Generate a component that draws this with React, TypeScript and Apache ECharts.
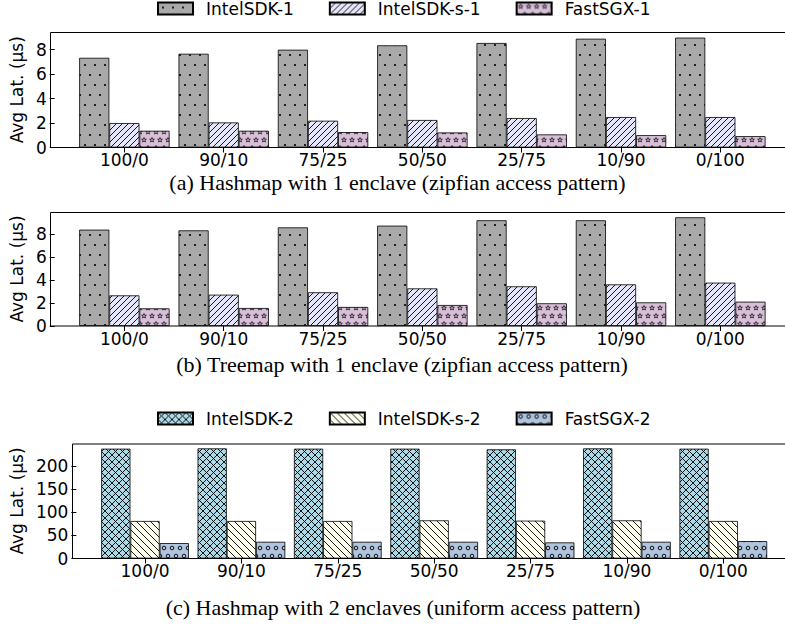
import React, { useEffect, useRef } from 'react';
import * as echarts from 'echarts';

const categories = ['100/0', '90/10', '75/25', '50/50', '25/75', '10/90', '0/100'];

// (a) Hashmap, 1 enclave
const hashIntel1 = [7.34, 7.67, 8.0, 8.36, 8.55, 8.9, 8.99];
const hashIntelS1 = [2.0, 2.05, 2.19, 2.25, 2.41, 2.49, 2.49];
const hashFast1 = [1.37, 1.37, 1.26, 1.23, 1.07, 1.01, 0.93];

// (b) Treemap, 1 enclave
const treeIntel1 = [8.4, 8.34, 8.6, 8.75, 9.22, 9.22, 9.48];
const treeIntelS1 = [2.67, 2.73, 2.94, 3.28, 3.46, 3.63, 3.78];
const treeFast1 = [1.54, 1.57, 1.66, 1.83, 1.98, 2.06, 2.12];

// (c) Hashmap, 2 enclaves
const hashIntel2 = [236.8, 237.5, 236.8, 236.8, 235.4, 237.5, 236.8];
const hashIntelS2 = [80.9, 80.9, 80.9, 82.3, 81.6, 82.3, 80.9];
const hashFast2 = [33.2, 36.1, 36.1, 36.1, 34.7, 36.1, 37.5];

const names1 = ['IntelSDK-1', 'IntelSDK-s-1', 'FastSGX-1'];
const names2 = ['IntelSDK-2', 'IntelSDK-s-2', 'FastSGX-2'];
const yTicksSmall = [0, 2, 4, 6, 8];
const yTicksLarge = [0, 50, 100, 150, 200];
const yTitle = 'Avg Lat. (µs)';
const captions = [
  '(a) Hashmap with 1 enclave (zipfian access pattern)',
  '(b) Treemap with 1 enclave (zipfian access pattern)',
  '(c) Hashmap with 2 enclaves (uniform access pattern)',
];

const SANS = 'DejaVu Sans';
const SERIF = 'Liberation Serif';

type Draw = (ctx: CanvasRenderingContext2D, w: number, h: number) => void;

function makePattern(bg: string, w: number, h: number, draw: Draw) {
  const c = document.createElement('canvas');
  c.width = w;
  c.height = h;
  const ctx = c.getContext('2d') as CanvasRenderingContext2D;
  ctx.fillStyle = bg;
  ctx.fillRect(0, 0, w, h);
  ctx.strokeStyle = '#000';
  ctx.fillStyle = '#000';
  draw(ctx, w, h);
  return { image: c.toDataURL(), repeat: 'repeat', imageWidth: w, imageHeight: h };
}

function dot(ctx: CanvasRenderingContext2D, x: number, y: number, r: number) {
  ctx.beginPath();
  ctx.arc(x, y, r, 0, Math.PI * 2);
  ctx.fill();
}
function ring(ctx: CanvasRenderingContext2D, x: number, y: number, r: number) {
  ctx.beginPath();
  ctx.arc(x, y, r, 0, Math.PI * 2);
  ctx.stroke();
}
function star(ctx: CanvasRenderingContext2D, x: number, y: number, ro: number, ri: number) {
  ctx.beginPath();
  for (let i = 0; i < 10; i++) {
    const r = i % 2 === 0 ? ro : ri;
    const a = -Math.PI / 2 + (i * Math.PI) / 5;
    const px = x + r * Math.cos(a);
    const py = y + r * Math.sin(a);
    if (i === 0) ctx.moveTo(px, py);
    else ctx.lineTo(px, py);
  }
  ctx.closePath();
  ctx.stroke();
}
function seg(ctx: CanvasRenderingContext2D, x1: number, y1: number, x2: number, y2: number) {
  ctx.beginPath();
  ctx.moveTo(x1, y1);
  ctx.lineTo(x2, y2);
  ctx.stroke();
}

function buildPatterns() {
  const dots = makePattern('#a9a9a9', 10, 20, (ctx) => {
    dot(ctx, 5, 5, 1.1);
    dot(ctx, 0, 15, 1.1);
    dot(ctx, 10, 15, 1.1);
  });
  const slash = makePattern('#e6e6fa', 6, 6, (ctx, w, h) => {
    ctx.lineWidth = 0.9;
    seg(ctx, -1, h + 1, w + 1, -1);
    seg(ctx, -1, 1, 1, -1);
    seg(ctx, w - 1, h + 1, w + 1, h - 1);
  });
  const stars = makePattern('#d8bfd8', 8, 16, (ctx) => {
    ctx.lineWidth = 0.7;
    star(ctx, 4, 4, 2.5, 1.0);
    star(ctx, 0, 12, 2.5, 1.0);
    star(ctx, 8, 12, 2.5, 1.0);
  });
  const cross = makePattern('#add8e6', 7, 7, (ctx, w, h) => {
    ctx.lineWidth = 0.9;
    seg(ctx, -1, -1, w + 1, h + 1);
    seg(ctx, -1, h + 1, w + 1, -1);
  });
  const back = makePattern('#fffff0', 7, 7, (ctx, w, h) => {
    ctx.lineWidth = 0.9;
    seg(ctx, -1, -1, w + 1, h + 1);
    seg(ctx, w - 1, -1, w + 1, 1);
    seg(ctx, -1, h - 1, 1, h + 1);
  });
  const circles = makePattern('#b0c4de', 8, 16, (ctx) => {
    ctx.lineWidth = 0.9;
    ring(ctx, 4, 4, 1.8);
    ring(ctx, 0, 12, 1.8);
    ring(ctx, 8, 12, 1.8);
  });
  return { dots, slash, stars, cross, back, circles };
}

export default function App() {
  const ref = useRef<HTMLDivElement>(null);

  useEffect(() => {
    if (!ref.current) return;
    const chart = echarts.init(ref.current, undefined, { renderer: 'svg' });
    const p = buildPatterns();

    const grids = [
      { left: 70, width: 700, top: 32, height: 115.5 },
      { left: 70, width: 700, top: 212, height: 114 },
      { left: 92.5, width: 679, top: 443.5, height: 115 },
    ];
    const maxes = [9.45, 9.94, 248];
    const ticks = [yTicksSmall, yTicksSmall, yTicksLarge];
    const nameGaps = [21, 21, 43];
    const offsets = [20, 20, 20.5];

    const xAxis = grids.map((_, i) => ({
      type: 'category',
      gridIndex: i,
      data: categories,
      axisLine: { show: false },
      axisTick: { show: true, alignWithLabel: true, length: 5, lineStyle: { color: '#000', width: 1 } },
      axisLabel: { color: '#000', fontSize: 17, lineHeight: 17, fontFamily: SANS, margin: 4 },
      splitLine: { show: false },
    }));

    const yAxis = grids.map((_, i) => ({
      type: 'value',
      gridIndex: i,
      min: 0,
      max: maxes[i],
      offset: offsets[i],
      axisLine: { show: false },
      axisTick: { show: true, length: 5, customValues: ticks[i], lineStyle: { color: '#000', width: 1 } },
      axisLabel: { color: '#000', fontSize: 17, fontFamily: SANS, margin: 8, customValues: ticks[i] },
      splitLine: { show: false },
      name: yTitle,
      nameLocation: 'middle',
      nameGap: nameGaps[i],
      nameRotate: 90,
      nameTextStyle: { color: '#000', fontSize: 17, fontFamily: SANS },
    }));

    const mk = (name: string, idx: number, data: number[], color: any) => ({
      type: 'bar',
      name,
      xAxisIndex: idx,
      yAxisIndex: idx,
      data,
      barGap: '0%',
      barCategoryGap: '9%',
      itemStyle: { color, borderColor: '#000', borderWidth: 0.8 },
      emphasis: { disabled: true },
    });

    const series = [
      mk(names1[0], 0, hashIntel1, p.dots),
      mk(names1[1], 0, hashIntelS1, p.slash),
      mk(names1[2], 0, hashFast1, p.stars),
      mk(names1[0], 1, treeIntel1, p.dots),
      mk(names1[1], 1, treeIntelS1, p.slash),
      mk(names1[2], 1, treeFast1, p.stars),
      mk(names2[0], 2, hashIntel2, p.cross),
      mk(names2[1], 2, hashIntelS2, p.back),
      mk(names2[2], 2, hashFast2, p.circles),
    ];

    const legendBase = {
      orient: 'horizontal',
      left: 157,
      padding: 0,
      itemWidth: 35,
      itemHeight: 12,
      itemGap: 35,
      icon: 'rect',
      selectedMode: false,
      textStyle: { color: '#000', fontSize: 17, fontFamily: SANS, padding: [0, 0, 0, 8] },
    };

    const frames = grids.map((g, i) => ({
      type: 'rect',
      z: 100,
      silent: true,
      shape: { x: g.left - offsets[i] + 0.5, y: g.top + 0.5, width: 800, height: g.height - 0.5 },
      style: { fill: 'none', stroke: '#000', lineWidth: 1 },
    }));

    const capPos = [
      [397.5, 182],
      [402, 364],
      [403, 607],
    ];
    const captionEls = captions.map((t, i) => ({
      type: 'text',
      z: 100,
      silent: true,
      x: capPos[i][0],
      y: capPos[i][1],
      style: {
        text: t,
        font: `22px "${SERIF}"`,
        lineHeight: 18,
        fill: '#000',
        textAlign: 'center',
        textVerticalAlign: 'middle',
      },
    }));

    chart.setOption({
      animation: false,
      backgroundColor: '#fff',
      grid: grids,
      xAxis,
      yAxis,
      legend: [
        { ...legendBase, top: 0, data: names1 },
        { ...legendBase, top: 410, data: names2 },
      ],
      series,
      graphic: [...frames, ...captionEls],
    });

    return () => chart.dispose();
  }, []);

  return (
    <div
      ref={ref}
      style={{ position: 'fixed', left: 0, top: 0, width: 785, height: 627, background: '#fff' }}
    />
  );
}
